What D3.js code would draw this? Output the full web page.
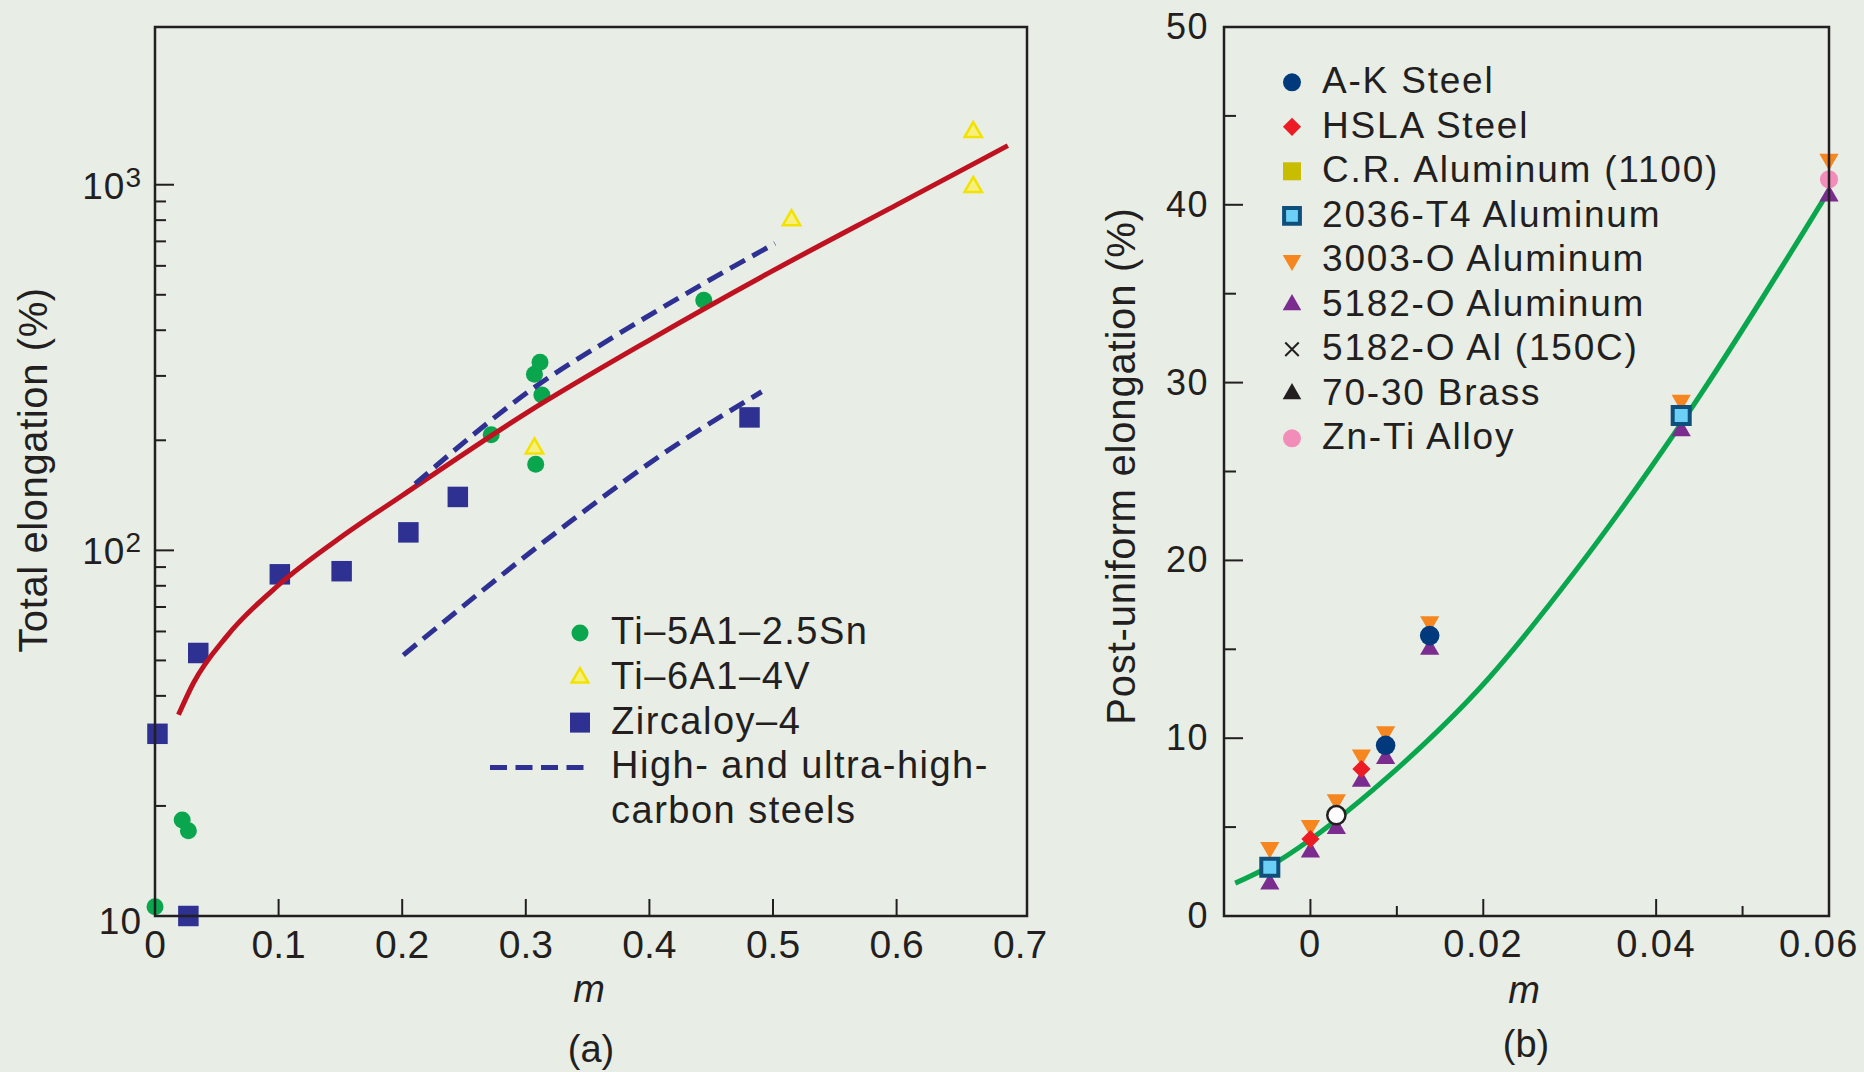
<!DOCTYPE html>
<html>
<head>
<meta charset="utf-8">
<script src="https://cdn.jsdelivr.net/npm/d3@7"></script>
<style>
  html, body { margin: 0; padding: 0; background: #e8ede6; }
  svg text { font-family: "Liberation Sans", Arial, sans-serif; fill: #231f20; }
</style>
</head>
<body>
<svg id="chart" width="1864" height="1072"></svg>
<script>
// ---- panel (a): total elongation vs m (log scale) ----
const tiSnM = [0, 0.022, 0.027, 0.272, 0.307, 0.3115, 0.313, 0.308, 0.444];
const tiSnE = [10.6, 18.3, 17.1, 207, 303, 327, 266, 172, 483];
const tiVM = [0.307, 0.515, 0.662, 0.662];
const tiVE = [190, 800, 1393, 986];
const zircM = [0.002, 0.027, 0.035, 0.101, 0.151, 0.205, 0.245, 0.481];
const zircE = [31.5, 10, 52.4, 86, 87.7, 112, 140, 231];
const fitAM = [0.019, 0.031, 0.058, 0.1, 0.15, 0.2, 0.3, 0.4, 0.5, 0.6, 0.69];
const fitAE = [35.5, 43.3, 58.2, 80.4, 108.4, 141.3, 237, 376, 582, 881, 1279];
const steelUpM = [0.2104, 0.3115, 0.3708, 0.441, 0.5016];
const steelUpE = [152, 286, 383, 530, 691];
const steelLoM = [0.2009, 0.3358, 0.4113, 0.4908];
const steelLoE = [51.7, 119.7, 184, 271.5];
const xTickA = [0, 0.1, 0.2, 0.3, 0.4, 0.5, 0.6, 0.7];
const legendA = ["Ti\u20135A1\u20132.5Sn", "Ti\u20136A1\u20134V", "Zircaloy\u20134", "High- and ultra-high-", "carbon steels"];

// ---- panel (b): post-uniform elongation vs m ----
const akM = [0.0087, 0.0138];
const akE = [9.6, 15.77];
const hslaM = [0, 0.0059];
const hslaE = [4.33, 8.27];
const t4M = [-0.0047, 0.0429];
const t4E = [2.74, 28.15];
const al3003M = [-0.0047, 0, 0.003, 0.0059, 0.0087, 0.0138, 0.0429, 0.06];
const al3003E = [3.85, 5.09, 6.53, 9.05, 10.36, 16.55, 29.0, 42.56];
const al5182M = [-0.0047, 0, 0.003, 0.0059, 0.0087, 0.0138, 0.0429, 0.06];
const al5182E = [1.8, 3.6, 4.92, 7.58, 8.86, 15.0, 27.3, 40.5];
const openM = [0.003];
const openE = [5.67];
const znTiM = [0.06];
const znTiE = [41.43];
const fitBM = [-0.0087, -0.0047, 0, 0.003, 0.0088, 0.0205, 0.0305, 0.0429, 0.06];
const fitBE = [1.85, 2.8, 4.3, 5.4, 7.75, 13.3, 19.3, 27.7, 40.8];
const xTickB = [0, 0.02, 0.04, 0.06];
const xMinorB = [0.01, 0.05];
const yTickB = [0, 10, 20, 30, 40, 50];
const yMinorB = [5, 15, 25, 35, 45];
const legendB = ["A-K Steel", "HSLA Steel", "C.R. Aluminum (1100)", "2036-T4 Aluminum",
  "3003-O Aluminum", "5182-O Aluminum", "5182-O Al (150C)", "70-30 Brass", "Zn-Ti Alloy"];

const ink = "#231f20";
const svg = d3.select("#chart");
svg.append("rect").attr("width", 1864).attr("height", 1072).attr("fill", "#e8ede6");

const zip = (a, b) => a.map((v, i) => [v, b[i]]);
const sym = (type, size) => d3.symbol().type(type).size(size)();

// =================== panel (a) ===================
const xA = d3.scaleLinear().domain([0, 0.7055]).range([155, 1027]);
const yA = d3.scaleLog().domain([10, 2700]).range([916, 27]);
const gA = svg.append("g");

// ticks inside frame
gA.selectAll(".xt").data(xTickA.slice(1, -1)).join("line")
  .attr("x1", d => xA(d)).attr("x2", d => xA(d))
  .attr("y1", 916).attr("y2", 899)
  .attr("stroke", ink).attr("stroke-width", 2);
const logTicks = yA.ticks().filter(d => d <= 1000);
gA.selectAll(".yt").data(logTicks).join("line")
  .attr("x1", 155).attr("x2", d => Number.isInteger(Math.log10(d)) ? 174 : 166)
  .attr("y1", d => yA(d)).attr("y2", d => yA(d))
  .attr("stroke", ink).attr("stroke-width", 2);

gA.selectAll(".xl").data(xTickA).join("text")
  .attr("x", d => xA(d)).attr("y", 958)
  .attr("text-anchor", "middle").attr("font-size", 39)
  .text(d => d === 0 ? "0" : d3.format(".1f")(d));

// y labels with superscript exponents
[10, 100, 1000].forEach(v => {
  const e = Math.round(Math.log10(v));
  const t = gA.append("text").attr("x", 142)
    .attr("y", yA(v) + (e === 1 ? 18 : 14))
    .attr("text-anchor", "end").attr("font-size", 37).attr("letter-spacing", 1);
  t.append("tspan").text("10");
  if (e > 1) t.append("tspan").attr("font-size", 28).attr("dy", -12).text(e);
});

// markers
gA.selectAll(".tiSn").data(zip(tiSnM, tiSnE)).join("path")
  .attr("d", sym(d3.symbolCircle, 227))
  .attr("transform", d => `translate(${xA(d[0])},${yA(d[1])})`)
  .attr("fill", "#0aa64e");
gA.selectAll(".tiV").data(zip(tiVM, tiVE)).join("path")
  .attr("d", sym(d3.symbolTriangle, 130))
  .attr("transform", d => `translate(${xA(d[0])},${yA(d[1])})`)
  .attr("fill", "#f8f07e").attr("stroke", "#f2e200").attr("stroke-width", 2.5);
gA.selectAll(".zirc").data(zip(zircM, zircE)).join("path")
  .attr("d", sym(d3.symbolSquare, 420))
  .attr("transform", d => `translate(${xA(d[0])},${yA(d[1])})`)
  .attr("fill", "#2e3192");

// lines
const lineA = d3.line().x(d => xA(d[0])).y(d => yA(d[1])).curve(d3.curveMonotoneX);
gA.append("path").datum(zip(fitAM, fitAE)).attr("d", lineA)
  .attr("fill", "none").attr("stroke", "#bf1220").attr("stroke-width", 5);
[zip(steelUpM, steelUpE), zip(steelLoM, steelLoE)].forEach(pts => {
  gA.append("path").datum(pts).attr("d", lineA)
    .attr("fill", "none").attr("stroke", "#2e3192").attr("stroke-width", 5)
    .attr("stroke-dasharray", "17 8.5");
});

gA.append("rect").attr("x", 155).attr("y", 27).attr("width", 872).attr("height", 889)
  .attr("fill", "none").attr("stroke", ink).attr("stroke-width", 2.5);

// legend (a)
const legA = gA.append("g");
const rowA = i => 633 + i * 44.8;
legA.append("path").attr("d", sym(d3.symbolCircle, 227))
  .attr("transform", `translate(580,${rowA(0)})`).attr("fill", "#0aa64e");
legA.append("path").attr("d", sym(d3.symbolTriangle, 120))
  .attr("transform", `translate(580,${rowA(1)})`)
  .attr("fill", "#f8f07e").attr("stroke", "#f2e200").attr("stroke-width", 2.5);
legA.append("path").attr("d", sym(d3.symbolSquare, 400))
  .attr("transform", `translate(580,${rowA(2)})`).attr("fill", "#2e3192");
legA.append("line").attr("x1", 490).attr("x2", 590).attr("y1", rowA(3)).attr("y2", rowA(3))
  .attr("stroke", "#2e3192").attr("stroke-width", 5).attr("stroke-dasharray", "17 8.5");
legA.selectAll("text").data(legendA).join("text")
  .attr("x", 611).attr("y", (d, i) => rowA(i) + 11)
  .attr("font-size", 38).attr("letter-spacing", 1.5).text(d => d);

gA.append("text").attr("transform", "translate(47,470) rotate(-90)")
  .attr("text-anchor", "middle").attr("font-size", 40).attr("letter-spacing", 0.6)
  .text("Total elongation (%)");
gA.append("text").attr("x", 589).attr("y", 1002).attr("text-anchor", "middle")
  .attr("font-size", 38).attr("font-style", "italic").text("m");
gA.append("text").attr("x", 591).attr("y", 1062).attr("text-anchor", "middle")
  .attr("font-size", 38).text("(a)");

// =================== panel (b) ===================
const xB = d3.scaleLinear().domain([-0.01, 0.06]).range([1224, 1829]);
const yB = d3.scaleLinear().domain([0, 50]).range([916, 27]);
const gB = svg.append("g");

gB.selectAll(".xt").data(xTickB.slice(0, -1)).join("line")
  .attr("x1", d => xB(d)).attr("x2", d => xB(d)).attr("y1", 916).attr("y2", 899)
  .attr("stroke", ink).attr("stroke-width", 2);
gB.selectAll(".xm").data(xMinorB).join("line")
  .attr("x1", d => xB(d)).attr("x2", d => xB(d)).attr("y1", 916).attr("y2", 906)
  .attr("stroke", ink).attr("stroke-width", 2);
gB.selectAll(".yt").data(yTickB.slice(1, -1)).join("line")
  .attr("x1", 1224).attr("x2", 1243).attr("y1", d => yB(d)).attr("y2", d => yB(d))
  .attr("stroke", ink).attr("stroke-width", 2);
gB.selectAll(".ym").data(yMinorB).join("line")
  .attr("x1", 1224).attr("x2", 1236).attr("y1", d => yB(d)).attr("y2", d => yB(d))
  .attr("stroke", ink).attr("stroke-width", 2);

gB.selectAll(".xl").data(xTickB).join("text")
  .attr("x", d => xB(d) - (d === 0.06 ? 10 : 0)).attr("y", 957)
  .attr("text-anchor", "middle").attr("font-size", 38).attr("letter-spacing", 1.5)
  .text(d => d === 0 ? "0" : d3.format(".2f")(d));
gB.selectAll(".yl").data(yTickB).join("text")
  .attr("x", 1209).attr("y", d => yB(d) + 12)
  .attr("text-anchor", "end").attr("font-size", 36).attr("letter-spacing", 1.5)
  .text(d => d);

// fit curve
const lineB = d3.line().x(d => xB(d[0])).y(d => yB(d[1])).curve(d3.curveMonotoneX);
gB.append("path").datum(zip(fitBM, fitBE)).attr("d", lineB)
  .attr("fill", "none").attr("stroke", "#0aa64e").attr("stroke-width", 5);

const putB = (mArr, eArr, d, attrs, rot) => {
  const sel = gB.append("g").selectAll("path").data(zip(mArr, eArr)).join("path")
    .attr("d", d)
    .attr("transform", p => `translate(${xB(p[0])},${yB(p[1])})` + (rot ? ` rotate(${rot})` : ""));
  Object.entries(attrs).forEach(([k, v]) => sel.attr(k, v));
};
const triB = sym(d3.symbolTriangle, 160);
putB(al3003M, al3003E, triB, { fill: "#f6861f" }, 180);
putB(al5182M, al5182E, triB, { fill: "#7b2c8f" });
putB(t4M, t4E, sym(d3.symbolSquare, 290), { fill: "#6ccff6", stroke: "#0f4f7c", "stroke-width": 4 });
putB(hslaM, hslaE, sym(d3.symbolSquare, 165), { fill: "#ec1c24" }, 45);
putB(akM, akE, sym(d3.symbolCircle, 300), { fill: "#003a7d" });
putB(openM, openE, sym(d3.symbolCircle, 260), { fill: "#ffffff", stroke: ink, "stroke-width": 2.5 });
putB(znTiM, znTiE, sym(d3.symbolCircle, 260), { fill: "#f28cb8" });

gB.append("rect").attr("x", 1224).attr("y", 27).attr("width", 605).attr("height", 889)
  .attr("fill", "none").attr("stroke", ink).attr("stroke-width", 2.5);

// legend (b)
const legB = gB.append("g");
const rowB = i => 82.3 + i * 44.5;
const legMarks = [
  { d: sym(d3.symbolCircle, 254), fill: "#003a7d" },
  { d: sym(d3.symbolSquare, 165), fill: "#ec1c24", rot: 45 },
  { d: sym(d3.symbolSquare, 324), fill: "#c8bd00" },
  { d: sym(d3.symbolSquare, 250), fill: "#6ccff6", stroke: "#0f4f7c", sw: 4 },
  { d: sym(d3.symbolTriangle, 150), fill: "#f6861f", rot: 180 },
  { d: sym(d3.symbolTriangle, 150), fill: "#7b2c8f" },
  { d: sym(d3.symbolX, 120), fill: "none", stroke: ink, sw: 2 },
  { d: sym(d3.symbolTriangle, 150), fill: ink },
  { d: sym(d3.symbolCircle, 254), fill: "#f28cb8" }
];
legB.selectAll("path").data(legMarks).join("path")
  .attr("d", m => m.d)
  .attr("transform", (m, i) => `translate(1292,${rowB(i)}) rotate(${m.rot || 0})`)
  .attr("fill", m => m.fill)
  .attr("stroke", m => m.stroke || "none")
  .attr("stroke-width", m => m.sw || 0);
legB.selectAll("text").data(legendB).join("text")
  .attr("x", 1322).attr("y", (d, i) => rowB(i) + 11)
  .attr("font-size", 37).attr("letter-spacing", 1.8).text(d => d);

gB.append("text").attr("transform", "translate(1135,466) rotate(-90)")
  .attr("text-anchor", "middle").attr("font-size", 40).attr("letter-spacing", 0.8)
  .text("Post-uniform elongation (%)");
gB.append("text").attr("x", 1524).attr("y", 1003).attr("text-anchor", "middle")
  .attr("font-size", 38).attr("font-style", "italic").text("m");
gB.append("text").attr("x", 1526).attr("y", 1057).attr("text-anchor", "middle")
  .attr("font-size", 38).text("(b)");
</script>
</body>
</html>
